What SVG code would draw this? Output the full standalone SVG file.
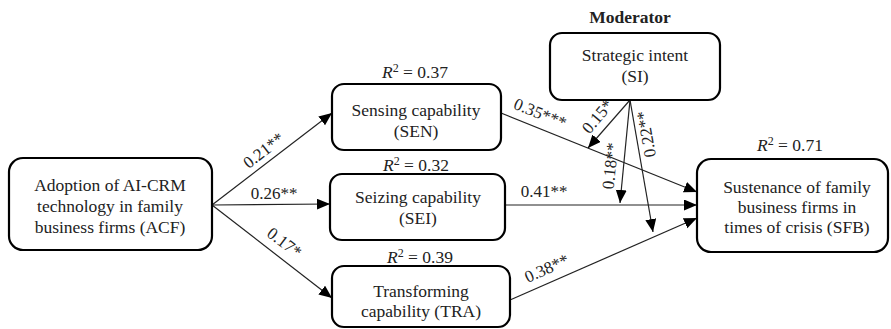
<svg xmlns="http://www.w3.org/2000/svg" width="891" height="329" viewBox="0 0 891 329">
<style>
.box{fill:#fff;stroke:#000;stroke-width:2.2}
.t{font-family:'Liberation Serif','DejaVu Serif',serif;font-size:17.5px;fill:#222;text-anchor:middle}
.lbl{font-family:'Liberation Serif','DejaVu Serif',serif;font-size:17px;fill:#222;text-anchor:middle}
.conn line{stroke:#222;stroke-width:1.2;marker-end:url(#ah)}
</style>
<defs>
<marker id="ah" markerUnits="userSpaceOnUse" markerWidth="14" markerHeight="12" refX="13" refY="5.5" orient="auto">
<path d="M0,0 L13,5.5 L0,11 Z" fill="#000"/>
</marker>
</defs>
<rect width="891" height="329" fill="#fff"/>
<g id="connectors" class="conn">
<line x1="212" y1="205" x2="332" y2="113"/>
<line x1="212" y1="205" x2="330" y2="204"/>
<line x1="212" y1="205" x2="332" y2="298"/>
<line x1="501" y1="113" x2="697" y2="192"/>
<line x1="505" y1="205" x2="697" y2="205"/>
<line x1="510" y1="300" x2="697" y2="218"/>
<line x1="630" y1="100" x2="588" y2="148"/>
<line x1="630" y1="100" x2="620" y2="203"/>
<line x1="630" y1="100" x2="653" y2="232"/>
</g>
<g id="labels">
<text class="lbl" transform="translate(264,151) rotate(-38)" y="5">0.21**</text>
<text class="lbl" x="274" y="199">0.26**</text>
<text class="lbl" transform="translate(284,243) rotate(37)" y="5">0.17*</text>
<text class="lbl" transform="translate(540,114) rotate(22)" y="5">0.35***</text>
<text class="lbl" x="544" y="197">0.41**</text>
<text class="lbl" transform="translate(547,269) rotate(-24)" y="5">0.38**</text>
<text class="lbl" transform="translate(598,117) rotate(-50)" y="5">0.15*</text>
<text class="lbl" transform="translate(611,166) rotate(-84)" y="5">0.18**</text>
<text class="lbl" transform="translate(647,134) rotate(-100)" y="5">0.22**</text>
</g>
<g id="ACF">
<rect class="box" x="9" y="158" width="203" height="92" rx="14"/>
<text class="t" x="110" y="191">Adoption of AI-CRM</text>
<text class="t" x="110" y="212">technology in family</text>
<text class="t" x="110" y="233">business firms (ACF)</text>
</g>
<g id="SEN">
<text class="t" x="415" y="78"><tspan font-style="italic">R</tspan><tspan dy="-6" font-size="12">2</tspan><tspan dy="6"> = 0.37</tspan></text>
<rect class="box" x="332" y="84" width="169" height="66" rx="12"/>
<text class="t" x="416" y="116">Sensing capability</text>
<text class="t" x="416" y="137">(SEN)</text>
</g>
<g id="SEI">
<text class="t" x="416" y="171"><tspan font-style="italic">R</tspan><tspan dy="-6" font-size="12">2</tspan><tspan dy="6"> = 0.32</tspan></text>
<rect class="box" x="330" y="174" width="175" height="66" rx="12"/>
<text class="t" x="418" y="203">Seizing capability</text>
<text class="t" x="418" y="224">(SEI)</text>
</g>
<g id="TRA">
<text class="t" x="420" y="263"><tspan font-style="italic">R</tspan><tspan dy="-6" font-size="12">2</tspan><tspan dy="6"> = 0.39</tspan></text>
<rect class="box" x="332" y="266" width="178" height="61" rx="12"/>
<text class="t" x="421" y="297">Transforming</text>
<text class="t" x="421" y="317">capability (TRA)</text>
</g>
<g id="SI">
<text class="t" x="630" y="23" font-weight="bold">Moderator</text>
<rect class="box" x="550" y="33" width="170" height="67" rx="12"/>
<text class="t" x="635" y="61">Strategic intent</text>
<text class="t" x="635" y="82">(SI)</text>
</g>
<g id="SFB">
<text class="t" x="790" y="151"><tspan font-style="italic">R</tspan><tspan dy="-6" font-size="12">2</tspan><tspan dy="6"> = 0.71</tspan></text>
<rect class="box" x="697" y="159" width="191" height="93" rx="14"/>
<text class="t" x="797" y="193">Sustenance of family</text>
<text class="t" x="797" y="213">business firms in</text>
<text class="t" x="797" y="233">times of crisis (SFB)</text>
</g>
</svg>
